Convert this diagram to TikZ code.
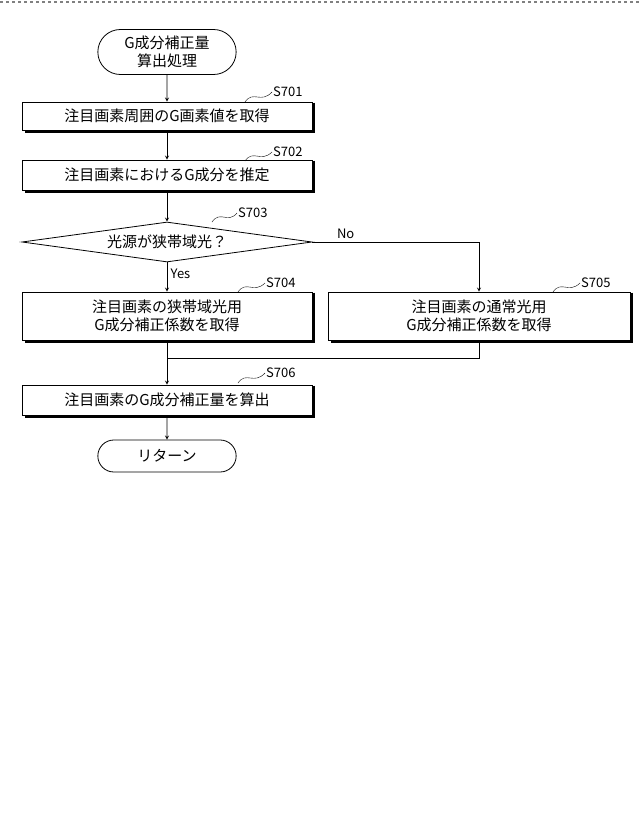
\documentclass[tikz,border=0pt]{standalone}
\usepackage{fontspec}
\setmainfont{Noto Sans CJK JP}
\usetikzlibrary{shapes.geometric, shapes.misc, arrows, positioning}
\begin{document}
\begin{tikzpicture}[x=1pt, y=-1pt]
\tikzstyle{stepbox} = [rectangle, draw, thick, fill=white, align=center, minimum width=290pt, inner sep=2pt, font=\fontsize{15}{18}\selectfont]
\tikzstyle{termbox} = [rounded rectangle, draw, thick, fill=white, align=center, minimum width=145pt, font=\fontsize{15}{18}\selectfont]
\tikzstyle{arrow} = [thick, ->, >=stealth]
\tikzstyle{steplabel} = [font=\fontsize{13}{15}\selectfont, anchor=west, inner sep=1pt]
\useasboundingbox (0,0) rectangle (640,814);
\draw[line width=2pt, gray, dashed] (0,2) -- (640,2);

\node (start) [termbox, minimum height=45pt] at (167,52) {G成分補正量\\算出処理};
\node (s701) [stepbox, minimum height=28pt] at (167,116) {注目画素周囲のG画素値を取得};
\node (s702) [stepbox, minimum height=30pt] at (167,175) {注目画素におけるG成分を推定};
\node (s703) [diamond, draw, thick, aspect=7.2, minimum width=290pt, minimum height=40pt, inner sep=0pt, font=\fontsize{15}{18}\selectfont] at (167,242) {光源が狭帯域光？};
\node (s704) [stepbox, minimum height=48pt] at (167,316) {注目画素の狭帯域光用\\G成分補正係数を取得};
\node (s705) [stepbox, minimum width=302pt, minimum height=48pt] at (479,316) {注目画素の通常光用\\G成分補正係数を取得};
\node (s706) [stepbox, minimum height=30pt] at (167,400) {注目画素のG成分補正量を算出};
\node (ret) [termbox, minimum height=32pt] at (167,456) {リターン};
\coordinate (merge) at (167,358);

% shadows
\foreach \n in {s701,s702,s704,s705,s706}
  \draw[line width=2pt] ([xshift=2pt,yshift=-1pt]\n.north east) -- ([xshift=2pt,yshift=-2pt]\n.south east) -- ([xshift=3pt,yshift=-2pt]\n.south west);

\draw [arrow] (start) -- (s701);
\draw [arrow] (s701) -- (s702);
\draw [arrow] (s702) -- (s703);
\draw [arrow] (s703) -- node[right, font=\fontsize{13}{15}\selectfont, pos=0.4] {Yes} (s704);
\draw [arrow] (s703.east) -| node[pos=0.1, above, font=\fontsize{13}{15}\selectfont] {No} (s705.north);
\draw [thick] (s704) -- (merge);
\draw [arrow] (s705.south) |- (merge) -- (s706);
\draw [arrow] (s706) -- (ret);

% step labels
\node (l701) [steplabel] at (272,92) {S701};
\node (l702) [steplabel] at (272,152) {S702};
\node (l703) [steplabel] at (237,213) {S703};
\node (l704) [steplabel] at (265,283) {S704};
\node (l705) [steplabel] at (580,283) {S705};
\node (l706) [steplabel] at (265,373) {S706};
\foreach \l/\x/\y in {l701/245/102, l702/245/161, l703/212/222, l704/238/292, l705/553/292, l706/238/383}
  \draw (\x,\y) .. controls (\x+8,\y-12) and (\x+16,\y+2) .. (\l.west);
\end{tikzpicture}
\end{document}
